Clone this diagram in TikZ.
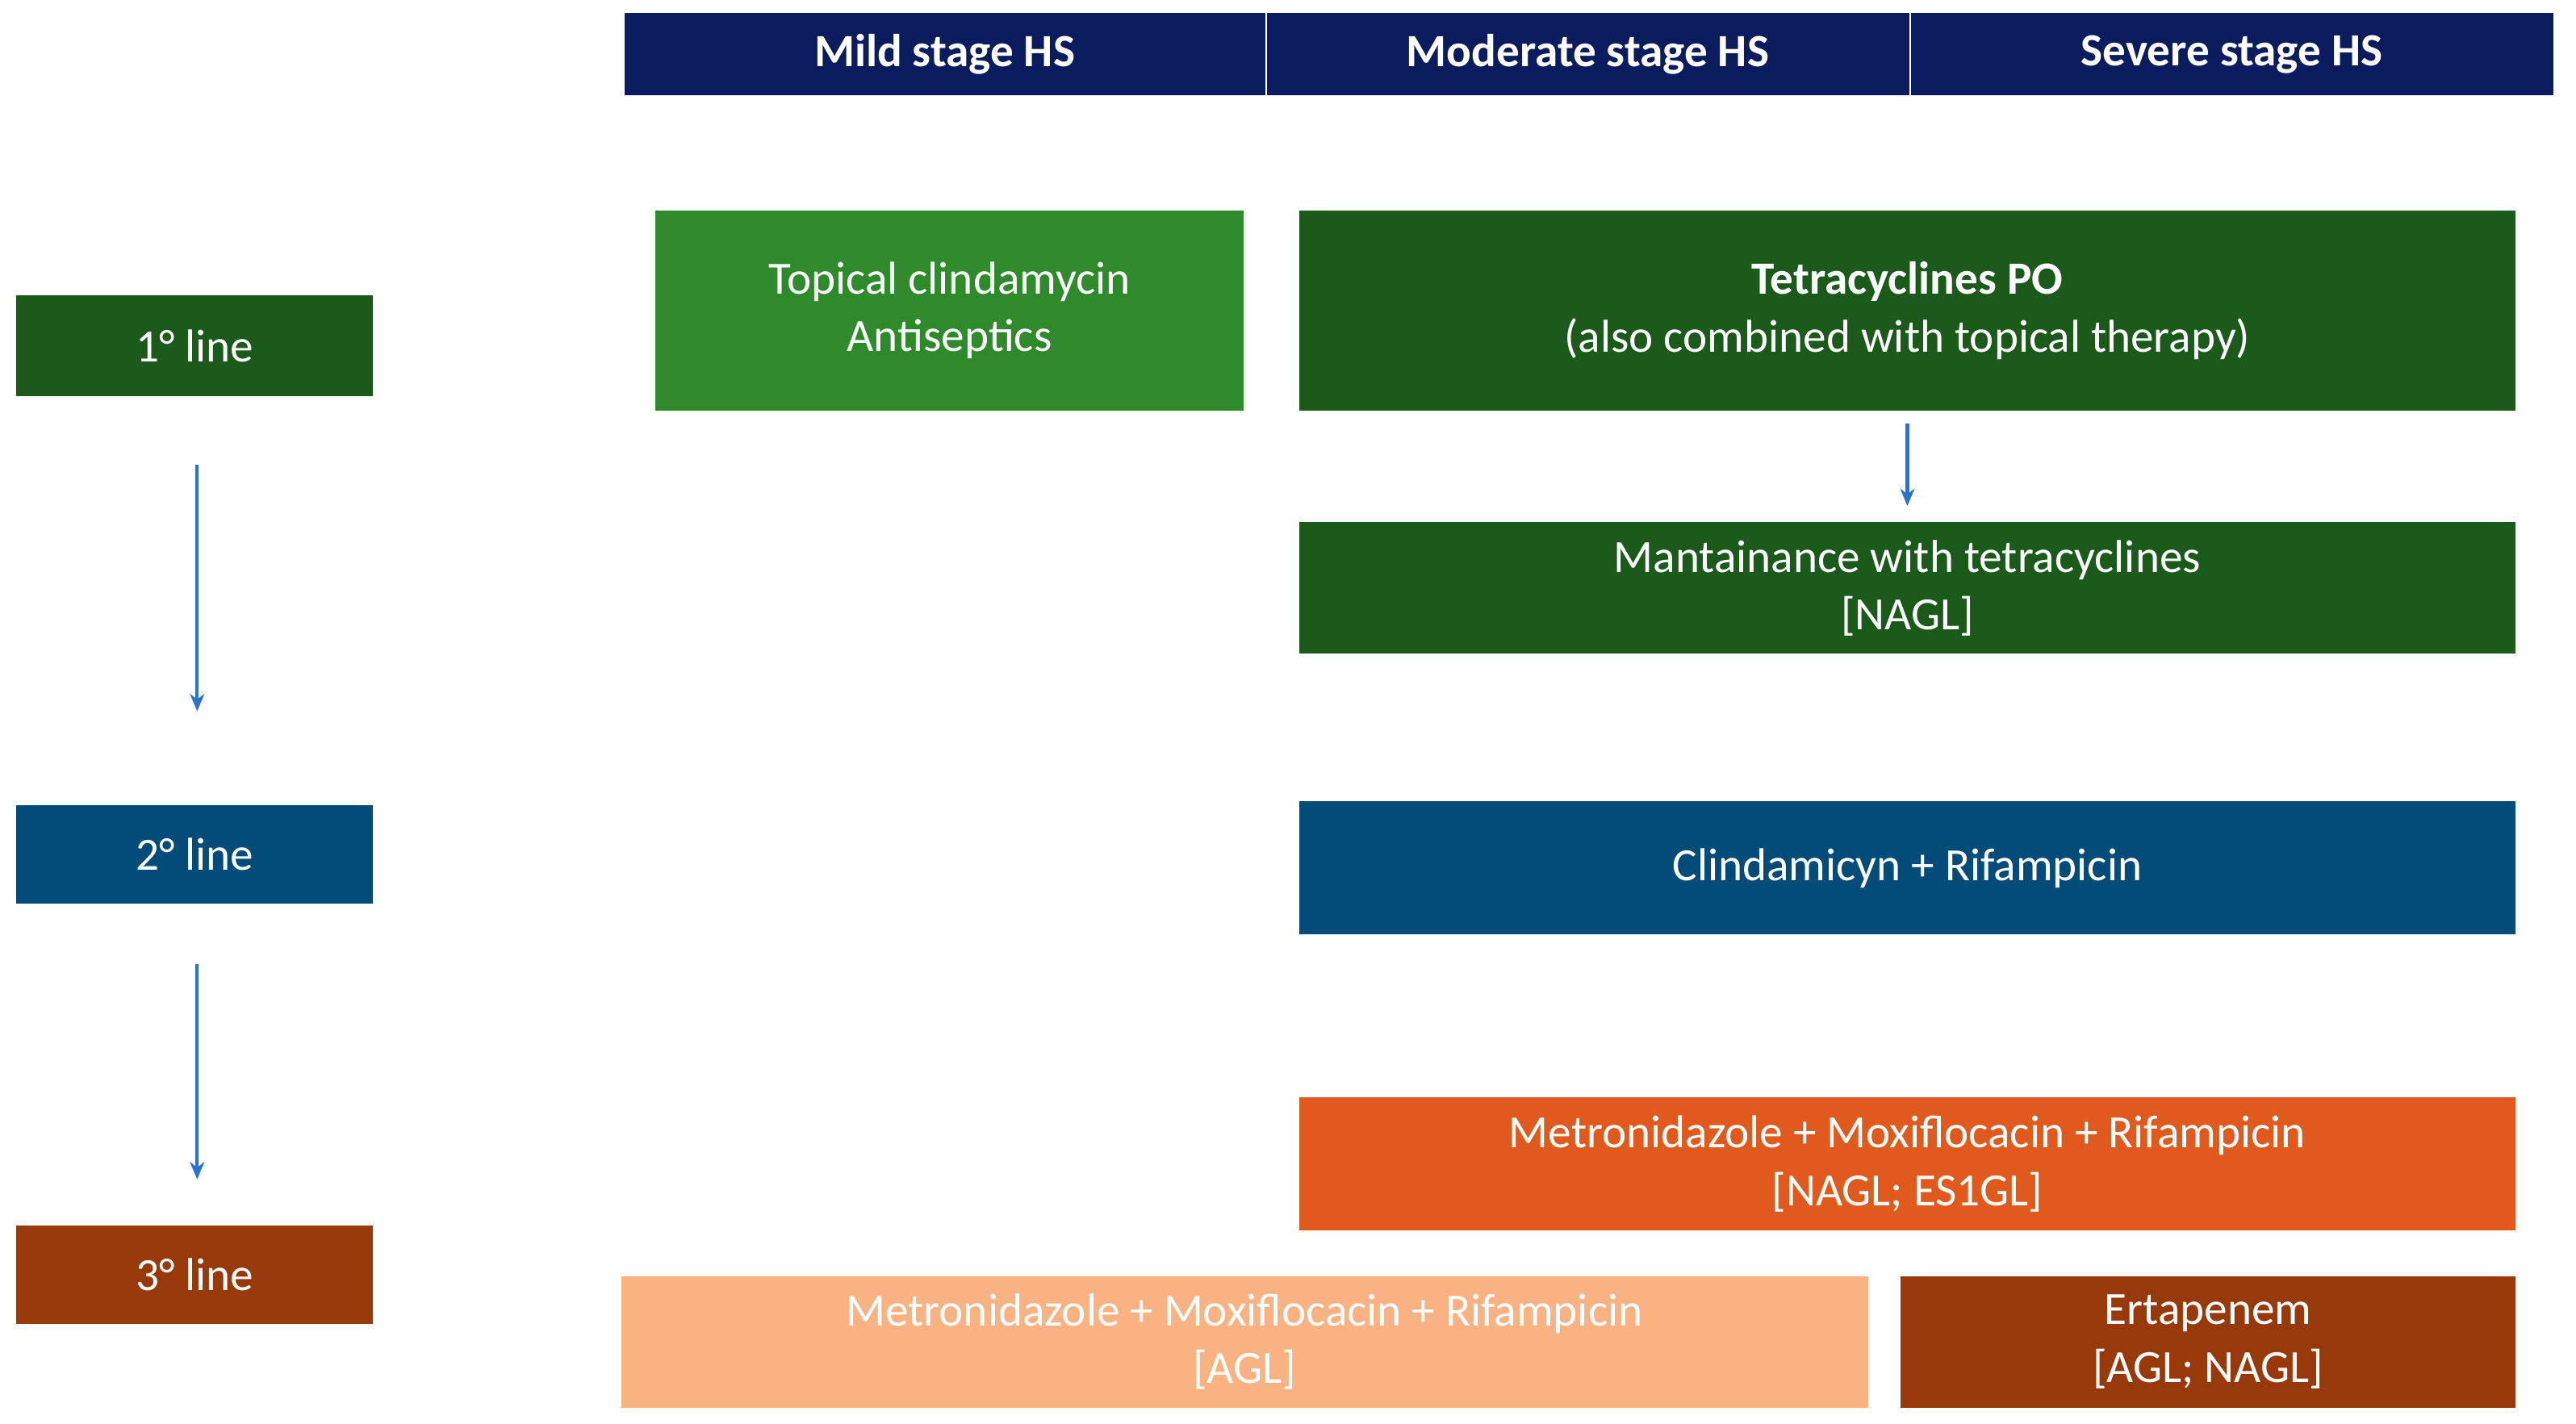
\documentclass[tikz,border=0pt]{standalone}
\usepackage{fontspec}
\usetikzlibrary{arrows.meta}
\setmainfont{Carlito}
\definecolor{navy}{HTML}{0A1C5E}
\definecolor{dgreen}{HTML}{1B5A1A}
\definecolor{mgreen}{HTML}{2F8A2B}
\definecolor{dblue}{HTML}{034C7A}
\definecolor{brown}{HTML}{98390B}
\definecolor{orng}{HTML}{E05A1E}
\definecolor{lorng}{HTML}{FBB282}
\definecolor{arr}{HTML}{2A72D0}
\begin{document}
\begin{tikzpicture}[x=0.02cm,y=-0.02cm,
  box/.style={inner sep=0,align=center,text=white,font=\fontsize{16}{20}\selectfont},
  conn/.style={arr,line width=1.2pt,-{Stealth[length=6pt,width=5pt]}}]
\useasboundingbox (0,0) rectangle (1568,867);
\newcommand{\bx}[7]{\fill[#5] (#1,#2) rectangle (#3,#4); \node[box] (#6) at ({(#1+#3)/2},{(#2+#4)/2}) {#7};}
\bx{380}{8}{770}{58}{navy}{h1}{\textbf{Mild stage HS}}
\bx{771}{8}{1162}{58}{navy}{h2}{\textbf{Moderate stage HS}}
\bx{1163}{8}{1554}{58}{navy}{h3}{\textbf{Severe stage HS}}
\bx{10}{180}{227}{241}{dgreen}{l1}{1° line}
\bx{10}{490}{227}{550}{dblue}{l2}{2° line}
\bx{10}{746}{227}{806}{brown}{l3}{3° line}
\bx{399}{128}{757}{250}{mgreen}{top}{Topical clindamycin\\Antiseptics}
\bx{791}{128}{1531}{250}{dgreen}{tet}{\textbf{Tetracyclines PO}\\(also combined with topical therapy)}
\bx{791}{318}{1531}{398}{dgreen}{man}{Mantainance with tetracyclines\\{[NAGL]}}
\bx{791}{488}{1531}{569}{dblue}{cli}{Clindamicyn + Rifampicin}
\bx{791}{668}{1531}{749}{orng}{met}{Metronidazole + Moxiflocacin + Rifampicin\\{[NAGL; ES1GL]}}
\bx{378}{777}{1137}{857}{lorng}{met2}{Metronidazole + Moxiflocacin + Rifampicin\\{[AGL]}}
\bx{1157}{777}{1531}{857}{brown}{ert}{Ertapenem\\{[AGL; NAGL]}}
\coordinate (a1) at (120,283); \coordinate (a2) at (120,433);
\coordinate (b1) at (120,587); \coordinate (b2) at (120,718);
\coordinate (c1) at (1161,258); \coordinate (c2) at (1161,308);
\draw[conn] (a1) -- (a2);
\draw[conn] (b1) -- (b2);
\draw[conn] (c1) -- (c2);
\end{tikzpicture}
\end{document}
